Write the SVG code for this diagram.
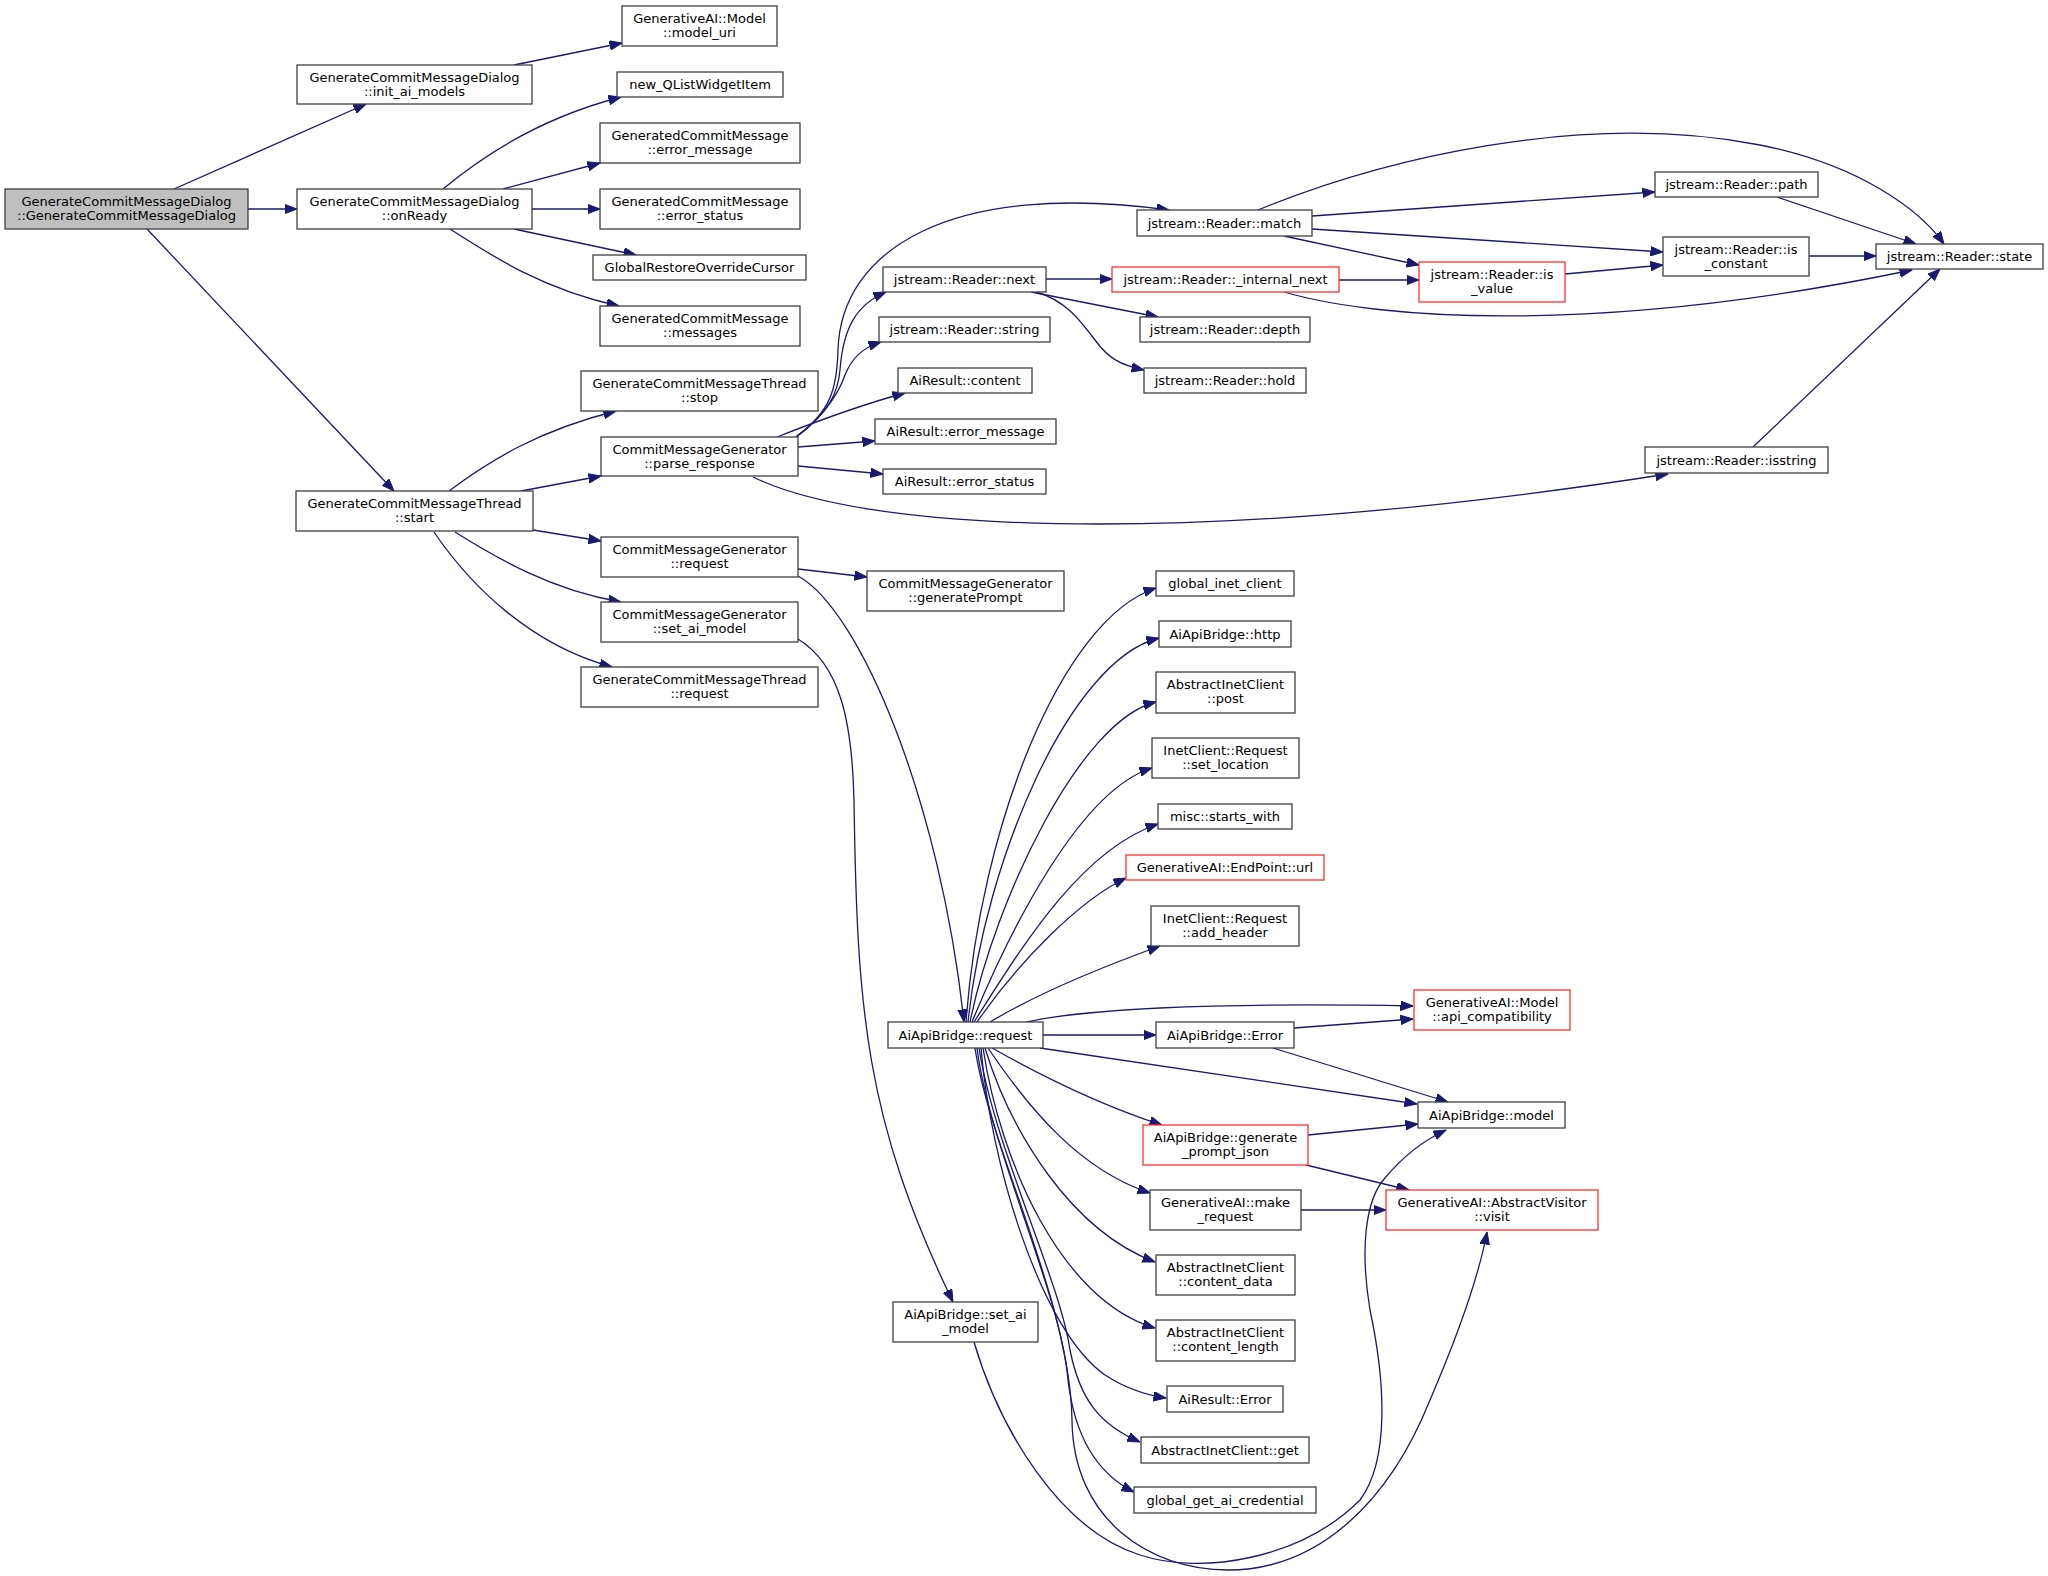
<svg xmlns="http://www.w3.org/2000/svg" width="2048" height="1576" viewBox="0 0 2048 1576">
<style>
.n rect{fill:#fff;stroke:#404040;stroke-width:1.3}
.n.r rect{stroke:#ff3030}
.n.root rect{fill:#bfbfbf}
.n text{font-family:"DejaVu Sans",sans-serif;font-size:13px;fill:#000;text-anchor:middle}
.e path{fill:none;stroke:#191970;stroke-width:1.3;marker-end:url(#ah)}
</style>
<defs>
<marker id="ah" markerUnits="userSpaceOnUse" markerWidth="13" markerHeight="10" refX="12.5" refY="4.75" orient="auto">
<path d="M0,0 L12.5,4.75 L0,9.5 z" fill="#191970" stroke="#191970" stroke-width="1"/>
</marker>
</defs>
<rect width="2048" height="1576" fill="#fff"/>
<g class="e" id="edges">
<path d="M174,189 L366,104"/>
<path d="M248,209 L297,209"/>
<path d="M147,229 L394,491"/>
<path d="M514,65 L622,43"/>
<path d="M443,189 C480,158 540,118 621,97"/>
<path d="M503,189 L600,163"/>
<path d="M532,209 L600,209"/>
<path d="M514,229 L636,255"/>
<path d="M450,229 C495,258 545,290 619,306"/>
<path d="M449,491 C490,460 540,430 616,411"/>
<path d="M521,491 L601,476"/>
<path d="M533,530 L601,541"/>
<path d="M455,532 C495,557 550,590 621,602"/>
<path d="M434,532 C470,585 530,645 612,667"/>
<path d="M796,437 C830,412 837,390 838,350 C841,250 950,180 1169,210"/>
<path d="M796,437 C830,412 838,392 840,370 C843,330 855,305 886,292"/>
<path d="M796,437 C825,415 838,395 845,375 C852,358 862,348 881,342"/>
<path d="M777,437 C820,420 860,405 905,393"/>
<path d="M798,447 L875,441"/>
<path d="M798,466 L883,474"/>
<path d="M753,477 C800,500 900,524 1100,524 C1300,524 1500,500 1668,474"/>
<path d="M1046,279 L1112,279"/>
<path d="M1031,292 L1158,317"/>
<path d="M1036,292 C1065,300 1080,320 1095,340 C1108,358 1120,365 1144,370"/>
<path d="M1258,210 C1380,160 1580,110 1760,145 C1860,165 1920,210 1944,244"/>
<path d="M1312,216 L1655,192"/>
<path d="M1312,229 L1663,252"/>
<path d="M1284,236 L1419,265"/>
<path d="M1339,280 L1419,280"/>
<path d="M1284,292 C1380,320 1600,335 1912,270"/>
<path d="M1565,274 L1663,265"/>
<path d="M1777,197 L1916,244"/>
<path d="M1809,256 L1876,256"/>
<path d="M1753,447 L1940,269"/>
<path d="M798,569 L867,577"/>
<path d="M798,576 C860,610 940,800 964,1022"/>
<path d="M798,639 C840,665 852,720 854,800 C857,1010 865,1120 953,1302"/>
<path d="M966,1022 C980,830 1060,620 1156,588"/>
<path d="M968,1022 C985,860 1070,660 1159,638"/>
<path d="M970,1022 C995,900 1080,720 1156,702"/>
<path d="M972,1022 C1010,930 1080,790 1152,768"/>
<path d="M974,1022 C1020,950 1080,850 1158,824"/>
<path d="M977,1022 C1020,960 1080,900 1126,878"/>
<path d="M990,1022 C1030,998 1080,975 1160,946"/>
<path d="M1027,1022 C1080,1010 1200,1002 1413,1006"/>
<path d="M1043,1035 L1156,1035"/>
<path d="M1294,1028 L1413,1019"/>
<path d="M1273,1048 L1448,1102"/>
<path d="M1040,1048 L1417,1104"/>
<path d="M992,1048 C1040,1075 1100,1105 1162,1125"/>
<path d="M1308,1135 L1418,1124"/>
<path d="M1306,1165 L1409,1190"/>
<path d="M1301,1210 L1386,1210"/>
<path d="M988,1048 C1030,1110 1080,1170 1150,1193"/>
<path d="M985,1048 C1010,1130 1070,1230 1155,1262"/>
<path d="M983,1048 C1000,1160 1060,1300 1155,1328"/>
<path d="M981,1048 C990,1160 1040,1330 1105,1375 C1125,1388 1145,1395 1166,1398"/>
<path d="M979,1048 C995,1150 1060,1280 1070,1350 C1080,1400 1100,1425 1140,1442"/>
<path d="M977,1048 C990,1150 1060,1290 1068,1380 C1075,1440 1100,1475 1134,1492"/>
<path d="M975,1048 C990,1150 1070,1300 1072,1420 C1073,1520 1150,1570 1228,1570 C1320,1570 1390,1500 1430,1400 C1460,1330 1480,1270 1487,1232"/>
<path d="M974,1342 C1000,1430 1060,1530 1140,1555 C1200,1575 1300,1560 1360,1500 C1390,1460 1385,1380 1370,1310 C1360,1250 1365,1200 1385,1178 C1400,1160 1420,1142 1446,1130"/>
</g>
<g class="n root" id="n_root"><rect x="5" y="189" width="243" height="40"/><text x="126.5" y="206">GenerateCommitMessageDialog</text><text x="126.5" y="220">::GenerateCommitMessageDialog</text></g>
<g class="n" id="n_init"><rect x="297" y="65" width="235" height="39"/><text x="414.5" y="82">GenerateCommitMessageDialog</text><text x="414.5" y="96">::init_ai_models</text></g>
<g class="n" id="n_onready"><rect x="297" y="189" width="235" height="40"/><text x="414.5" y="206">GenerateCommitMessageDialog</text><text x="414.5" y="220">::onReady</text></g>
<g class="n" id="n_start"><rect x="296" y="491" width="237" height="40"/><text x="414.5" y="508">GenerateCommitMessageThread</text><text x="414.5" y="522">::start</text></g>
<g class="n" id="n_model_uri"><rect x="622" y="6" width="155" height="40"/><text x="699.5" y="23">GenerativeAI::Model</text><text x="699.5" y="37">::model_uri</text></g>
<g class="n" id="n_newq"><rect x="617" y="72" width="166" height="25"/><text x="700" y="89">new_QListWidgetItem</text></g>
<g class="n" id="n_gcm_errmsg"><rect x="600" y="123" width="200" height="40"/><text x="700" y="140">GeneratedCommitMessage</text><text x="700" y="154">::error_message</text></g>
<g class="n" id="n_gcm_errstatus"><rect x="600" y="189" width="200" height="40"/><text x="700" y="206">GeneratedCommitMessage</text><text x="700" y="220">::error_status</text></g>
<g class="n" id="n_grc"><rect x="593" y="255" width="213" height="25"/><text x="699.5" y="272">GlobalRestoreOverrideCursor</text></g>
<g class="n" id="n_gcm_messages"><rect x="600" y="306" width="200" height="40"/><text x="700" y="323">GeneratedCommitMessage</text><text x="700" y="337">::messages</text></g>
<g class="n" id="n_stop"><rect x="581" y="371" width="237" height="40"/><text x="699.5" y="388">GenerateCommitMessageThread</text><text x="699.5" y="402">::stop</text></g>
<g class="n" id="n_parse"><rect x="601" y="437" width="197" height="39"/><text x="699.5" y="454">CommitMessageGenerator</text><text x="699.5" y="468">::parse_response</text></g>
<g class="n" id="n_cmg_req"><rect x="601" y="537" width="197" height="40"/><text x="699.5" y="554">CommitMessageGenerator</text><text x="699.5" y="568">::request</text></g>
<g class="n" id="n_cmg_set"><rect x="601" y="602" width="197" height="40"/><text x="699.5" y="619">CommitMessageGenerator</text><text x="699.5" y="633">::set_ai_model</text></g>
<g class="n" id="n_gcmt_req"><rect x="581" y="667" width="237" height="40"/><text x="699.5" y="684">GenerateCommitMessageThread</text><text x="699.5" y="698">::request</text></g>
<g class="n" id="n_match"><rect x="1137" y="210" width="175" height="26"/><text x="1224.5" y="228">jstream::Reader::match</text></g>
<g class="n" id="n_next"><rect x="883" y="267" width="163" height="25"/><text x="964.5" y="284">jstream::Reader::next</text></g>
<g class="n r" id="n_inext"><rect x="1112" y="267" width="227" height="25"/><text x="1225.5" y="284">jstream::Reader::_internal_next</text></g>
<g class="n" id="n_string"><rect x="879" y="317" width="171" height="25"/><text x="964.5" y="334">jstream::Reader::string</text></g>
<g class="n" id="n_depth"><rect x="1140" y="317" width="170" height="25"/><text x="1225" y="334">jstream::Reader::depth</text></g>
<g class="n" id="n_content"><rect x="898" y="368" width="134" height="25"/><text x="965" y="385">AiResult::content</text></g>
<g class="n" id="n_hold"><rect x="1144" y="368" width="162" height="25"/><text x="1225" y="385">jstream::Reader::hold</text></g>
<g class="n" id="n_path"><rect x="1655" y="172" width="163" height="25"/><text x="1736.5" y="189">jstream::Reader::path</text></g>
<g class="n" id="n_isconst"><rect x="1663" y="237" width="146" height="39"/><text x="1736" y="254">jstream::Reader::is</text><text x="1736" y="268">_constant</text></g>
<g class="n" id="n_state"><rect x="1876" y="244" width="167" height="25"/><text x="1959.5" y="261">jstream::Reader::state</text></g>
<g class="n r" id="n_isvalue"><rect x="1419" y="262" width="146" height="40"/><text x="1492" y="279">jstream::Reader::is</text><text x="1492" y="293">_value</text></g>
<g class="n" id="n_ar_errmsg"><rect x="875" y="419" width="181" height="25"/><text x="965.5" y="436">AiResult::error_message</text></g>
<g class="n" id="n_ar_errstatus"><rect x="883" y="469" width="163" height="25"/><text x="964.5" y="486">AiResult::error_status</text></g>
<g class="n" id="n_isstring"><rect x="1645" y="447" width="183" height="26"/><text x="1736.5" y="465">jstream::Reader::isstring</text></g>
<g class="n" id="n_genprompt"><rect x="867" y="571" width="197" height="40"/><text x="965.5" y="588">CommitMessageGenerator</text><text x="965.5" y="602">::generatePrompt</text></g>
<g class="n" id="n_gic"><rect x="1156" y="571" width="138" height="25"/><text x="1225" y="588">global_inet_client</text></g>
<g class="n" id="n_http"><rect x="1159" y="621" width="132" height="26"/><text x="1225" y="639">AiApiBridge::http</text></g>
<g class="n" id="n_post"><rect x="1156" y="672" width="139" height="41"/><text x="1225.5" y="689">AbstractInetClient</text><text x="1225.5" y="703">::post</text></g>
<g class="n" id="n_setloc"><rect x="1152" y="738" width="147" height="40"/><text x="1225.5" y="755">InetClient::Request</text><text x="1225.5" y="769">::set_location</text></g>
<g class="n" id="n_starts"><rect x="1158" y="804" width="134" height="25"/><text x="1225" y="821">misc::starts_with</text></g>
<g class="n r" id="n_url"><rect x="1126" y="855" width="198" height="25"/><text x="1225" y="872">GenerativeAI::EndPoint::url</text></g>
<g class="n" id="n_addh"><rect x="1151" y="906" width="148" height="40"/><text x="1225" y="923">InetClient::Request</text><text x="1225" y="937">::add_header</text></g>
<g class="n" id="n_apireq"><rect x="888" y="1022" width="155" height="26"/><text x="965.5" y="1040">AiApiBridge::request</text></g>
<g class="n" id="n_apierr"><rect x="1156" y="1022" width="138" height="26"/><text x="1225" y="1040">AiApiBridge::Error</text></g>
<g class="n r" id="n_apicompat"><rect x="1414" y="990" width="156" height="40"/><text x="1492" y="1007">GenerativeAI::Model</text><text x="1492" y="1021">::api_compatibility</text></g>
<g class="n" id="n_model"><rect x="1418" y="1102" width="147" height="26"/><text x="1491.5" y="1120">AiApiBridge::model</text></g>
<g class="n r" id="n_gpj"><rect x="1143" y="1125" width="165" height="40"/><text x="1225.5" y="1142">AiApiBridge::generate</text><text x="1225.5" y="1156">_prompt_json</text></g>
<g class="n" id="n_makereq"><rect x="1150" y="1190" width="151" height="40"/><text x="1225.5" y="1207">GenerativeAI::make</text><text x="1225.5" y="1221">_request</text></g>
<g class="n r" id="n_visit"><rect x="1386" y="1190" width="212" height="40"/><text x="1492" y="1207">GenerativeAI::AbstractVisitor</text><text x="1492" y="1221">::visit</text></g>
<g class="n" id="n_cdata"><rect x="1156" y="1255" width="139" height="40"/><text x="1225.5" y="1272">AbstractInetClient</text><text x="1225.5" y="1286">::content_data</text></g>
<g class="n" id="n_clen"><rect x="1156" y="1320" width="139" height="41"/><text x="1225.5" y="1337">AbstractInetClient</text><text x="1225.5" y="1351">::content_length</text></g>
<g class="n" id="n_arerror"><rect x="1167" y="1386" width="116" height="26"/><text x="1225" y="1404">AiResult::Error</text></g>
<g class="n" id="n_get"><rect x="1141" y="1437" width="168" height="26"/><text x="1225" y="1455">AbstractInetClient::get</text></g>
<g class="n" id="n_ggac"><rect x="1134" y="1487" width="182" height="26"/><text x="1225" y="1505">global_get_ai_credential</text></g>
<g class="n" id="n_apiset"><rect x="893" y="1302" width="145" height="40"/><text x="965.5" y="1319">AiApiBridge::set_ai</text><text x="965.5" y="1333">_model</text></g>
</svg>
